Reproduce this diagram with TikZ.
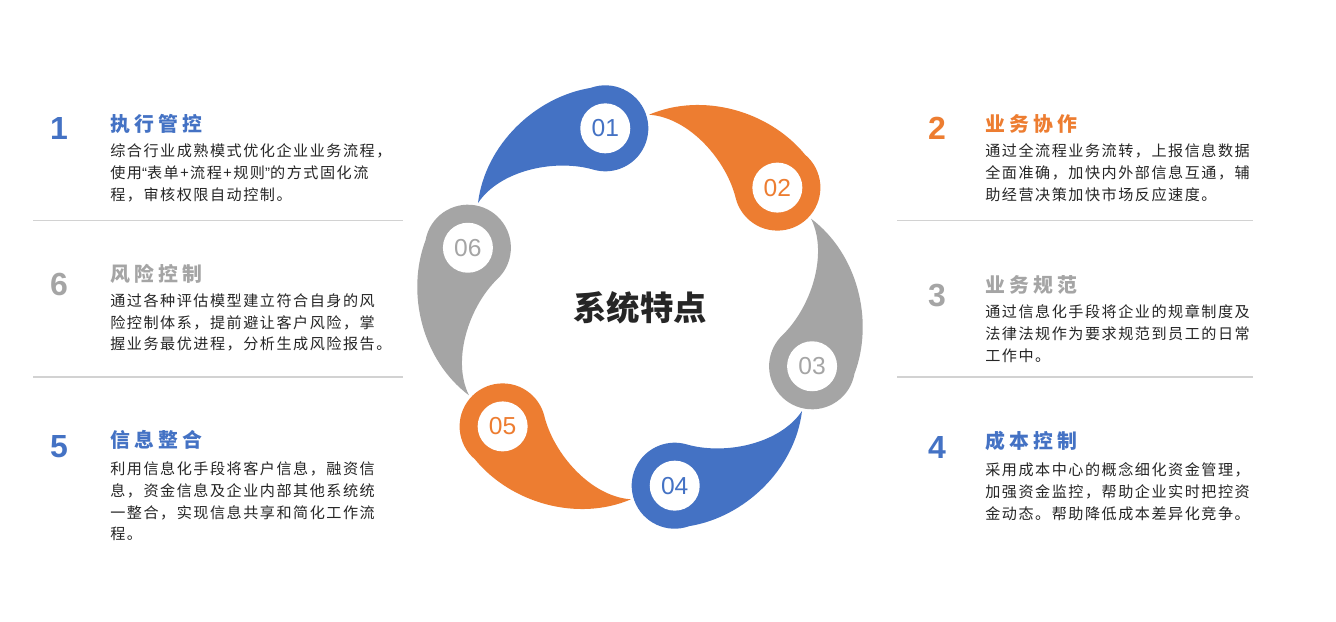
\documentclass[tikz,border=0pt]{standalone}
\usepackage{fontspec}
\usepackage{xcolor}
\usepackage{tikz}
\usetikzlibrary{positioning}
\setmainfont{Liberation Sans}
\newfontfamily\cjk{Noto Sans CJK SC}
\newfontfamily\titlecjk[LetterSpace=21]{Noto Sans CJK SC}
\newfontfamily\bodycjk[LetterSpace=10]{Noto Sans CJK SC}
\newcommand{\halfq}[1]{{\rmfamily #1}}
\definecolor{accblue}{RGB}{68,114,196}
\definecolor{accorange}{RGB}{237,125,49}
\definecolor{accgray}{RGB}{165,165,165}
\definecolor{rulec}{RGB}{210,210,210}
\definecolor{bodyc}{RGB}{38,38,38}

\tikzset{
  numdisc/.style={circle, fill=white, minimum size=1cm, inner sep=0pt,
    font=\fontsize{14}{16}\selectfont},
  bignum/.style={inner sep=0pt, font=\bfseries\fontsize{18.2}{20}\selectfont},
  heading/.style={anchor=west, inner sep=0pt,
    font=\titlecjk\bfseries\fontsize{11.3}{13}\selectfont},
  bodytext/.style={anchor=north west, inner sep=0pt, align=left, text=bodyc,
    font=\bodycjk\fontsize{8.6}{12.47}\selectfont},
}

\begin{document}
\begin{tikzpicture}[x=0.02cm, y=0.02cm]
  \fill[white] (0,0) rectangle (1336,-622);
  \useasboundingbox (0,0) rectangle (1336,-622);

  \foreach \k/\c/\n in {0/accblue/01, 1/accorange/02, 2/accgray/03,
                        3/accblue/04, 4/accorange/05, 5/accgray/06} {
    \begin{scope}[shift={(640,-307)}, rotate=-60*\k]
      \fill[\c] (-162,104) .. controls (-155,162) and (-105,210) .. (-49.4,219.1)
        arc[start angle=110, end angle=-105, radius=43]
        .. controls (-84.4,148.6) and (-140,137) .. cycle;
      \node[numdisc, text=\c] (disc\n) at (101:182) {\n};
    \end{scope}
  }
  \node[font=\cjk\bfseries\fontsize{19}{22}\selectfont, text=bodyc] (hub) at (640,-308) {系统特点};

  \draw[rulec, line width=1.5\pgflinewidth] (33,-220.5) -- (403,-220.5);
  \draw[rulec, line width=1.5\pgflinewidth] (33,-377) -- (403,-377);
  \draw[rulec, line width=1.5\pgflinewidth] (897,-220.5) -- (1253,-220.5);
  \draw[rulec, line width=1.5\pgflinewidth] (897,-377) -- (1253,-377);

  % left column
  \node[bignum, text=accblue] (num1) at (59,-128) {1};
  \node[heading, text=accblue] (head1) at (110,-124) {执行管控};
  \node[bodytext] (body1) at (110,-143) {综合行业成熟模式优化企业业务流程，\\使用\halfq{“}表单+流程+规则\halfq{”}的方式固化流\\程，审核权限自动控制。};

  \node[bignum, text=accgray] (num6) at (59,-284) {6};
  \node[heading, text=accgray] (head6) at (110,-274) {风险控制};
  \node[bodytext] (body6) at (110,-293) {通过各种评估模型建立符合自身的风\\险控制体系，提前避让客户风险，掌\\握业务最优进程，分析生成风险报告。};

  \node[bignum, text=accblue] (num5) at (59,-447) {5};
  \node[heading, text=accblue] (head5) at (110,-440) {信息整合};
  \node[bodytext] (body5) at (110,-461) {利用信息化手段将客户信息，融资信\\息，资金信息及企业内部其他系统统\\一整合，实现信息共享和简化工作流\\程。};

  % right column
  \node[bignum, text=accorange] (num2) at (937,-128) {2};
  \node[heading, text=accorange] (head2) at (985,-124) {业务协作};
  \node[bodytext] (body2) at (985,-143) {通过全流程业务流转，上报信息数据\\全面准确，加快内外部信息互通，辅\\助经营决策加快市场反应速度。};

  \node[bignum, text=accgray] (num3) at (937,-296) {3};
  \node[heading, text=accgray] (head3) at (985,-285) {业务规范};
  \node[bodytext] (body3) at (985,-304.5) {通过信息化手段将企业的规章制度及\\法律法规作为要求规范到员工的日常\\工作中。};

  \node[bignum, text=accblue] (num4) at (937,-447) {4};
  \node[heading, text=accblue] (head4) at (985,-441) {成本控制};
  \node[bodytext] (body4) at (985,-462) {采用成本中心的概念细化资金管理，\\加强资金监控，帮助企业实时把控资\\金动态。帮助降低成本差异化竞争。};
\end{tikzpicture}
\end{document}
